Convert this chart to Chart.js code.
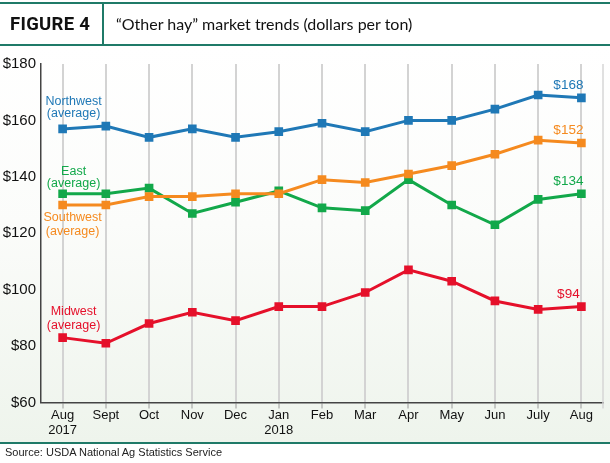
<!DOCTYPE html>
<html>
<head>
<meta charset="utf-8">
<script src="https://cdn.jsdelivr.net/npm/chart.js@4/dist/chart.umd.min.js"></script>
<style>
  html, body { margin:0; padding:0; width:610px; height:463px; overflow:hidden; background:#fff; }
  #bg { position:absolute; left:0; top:46px; width:610px; height:396px;
        background:linear-gradient(to bottom, #ffffff 0%, #fbfcfa 45%, #eef4ec 100%); }
  #wrap { position:absolute; left:0; top:0; width:610px; height:463px; }
  .hline { position:absolute; left:0; width:610px; height:2px; background:#1f7a68; }
  #vdiv { position:absolute; left:102px; top:4px; width:2px; height:41px; background:#1f7a68; }
  #fig { position:absolute; left:10px; top:13px; font-family:"Roboto","Liberation Sans",sans-serif; font-weight:700; font-size:18.5px; color:#111; letter-spacing:0.3px; }
  #title { position:absolute; left:116px; top:14px; font-family:"Lato","Open Sans",sans-serif; font-size:16px; color:#111; }
  #src { position:absolute; left:5px; top:446px; font-family:"Liberation Sans",Arial,sans-serif; font-size:11px; color:#222; }
</style>
</head>
<body>
<div id="bg"></div>
<div id="wrap"><canvas id="c" width="610" height="463"></canvas></div>
<div class="hline" style="top:2px"></div>
<div id="vdiv"></div>
<div class="hline" style="top:44px"></div>
<div id="fig">FIGURE 4</div>
<div id="title">“Other hay” market trends (dollars per ton)</div>
<div class="hline" style="top:442px"></div>
<div id="src">Source: USDA National Ag Statistics Service</div>
<script>
const categories = [["Aug","2017"],"Sept","Oct","Nov","Dec",["Jan","2018"],"Feb","Mar","Apr","May","Jun","July","Aug"];
const northwest = [157,158,154,157,154,156,159,156,160,160,164,169,168];
const southwest = [130,130,133,133,134,134,139,138,141,144,148,153,152];
const east      = [134,134,136,127,131,135,129,128,139,130,123,132,134];
const midwest   = [83,81,88,92,89,94,94,99,107,103,96,93,94];
const yTicks = [60,80,100,120,140,160,180];

const FONT = '"Liberation Sans",Arial,sans-serif';
const colors = { nw:'#1f78b6', sw:'#f58a1f', ea:'#12a84a', mw:'#e5102a' };

function ds(label, data, color){
  return { label, data, borderColor:color, backgroundColor:color, borderWidth:3,
    pointStyle:'rect', pointRadius:4, pointHoverRadius:4, tension:0 };
}

// series annotation labels: [dataset index, point index, lines, dx, dy of first line, line gap]
const seriesLabels = [
  [0, 0, ["Northwest","(average)"], 11, -27, 12],
  [2, 0, ["East","(average)"], 11, -22, 12],
  [1, 0, ["Southwest","(average)"], 10, 13, 14],
  [3, 0, ["Midwest","(average)"], 11, -26, 14],
];

const labelPlugin = {
  id:'labels',
  afterDatasetsDraw(chart){
    const ctx = chart.ctx;
    const xs = chart.scales.x, ys = chart.scales.y;
    ctx.save();
    ctx.textAlign = 'center';
    ctx.textBaseline = 'middle';
    ctx.font = '12.5px ' + FONT;
    seriesLabels.forEach(([d,i,lines,dx,dy,gap])=>{
      const dset = chart.data.datasets[d];
      const x = xs.getPixelForValue(i) + dx;
      const y = ys.getPixelForValue(dset.data[i]) + dy;
      ctx.fillStyle = dset.borderColor;
      lines.forEach((t,k)=> ctx.fillText(t, x, y + k*gap));
    });
    // end value labels
    ctx.font = '13.5px ' + FONT;
    chart.data.datasets.forEach(dset=>{
      const n = dset.data.length - 1;
      const v = dset.data[n];
      const x = xs.getPixelForValue(n) - 13;
      const y = ys.getPixelForValue(v) - 12.5;
      ctx.fillStyle = dset.borderColor;
      ctx.fillText('$' + v, x, y);
    });
    // right border of plot area
    const a = chart.chartArea;
    ctx.strokeStyle = '#d6d6d6';
    ctx.lineWidth = 1.5;
    ctx.beginPath();
    ctx.moveTo(a.right, a.top);
    ctx.lineTo(a.right, a.bottom + 6);
    ctx.stroke();
    ctx.restore();
  }
};

new Chart(document.getElementById('c'), {
  type:'line',
  data:{ labels:categories, datasets:[
    ds('Northwest', northwest, colors.nw),
    ds('Southwest', southwest, colors.sw),
    ds('East', east, colors.ea),
    ds('Midwest', midwest, colors.mw),
  ]},
  options:{
    responsive:false, animation:false,
    layout:{ padding:{ left:0, right:7, top:64, bottom:20 } },
    plugins:{ legend:{display:false}, tooltip:{enabled:false} },
    scales:{
      x:{
        offset:true,
        grid:{ offset:false, color:'#d3d3d3', lineWidth:2, drawTicks:true, tickLength:6, tickColor:'#9a9a9a', tickWidth:1 },
        border:{ display:true, color:'#444', width:1.5 },
        ticks:{ color:'#111', font:{ family:FONT, size:13, lineHeight:1.1 }, padding:0, maxRotation:0, autoSkip:false },
        afterFit(s){ s.height = 40.5; }
      },
      y:{
        min:60, max:180,
        afterBuildTicks(s){ s.ticks = yTicks.map(v=>({value:v})); },
        grid:{ display:false, drawTicks:false },
        border:{ display:true, color:'#444', width:1.5 },
        ticks:{ color:'#111', font:{ family:FONT, size:15 }, padding:5, callback:v=>'$'+v },
        afterFit(s){ s.width = 41; }
      }
    }
  },
  plugins:[labelPlugin]
});
</script>
</body>
</html>
